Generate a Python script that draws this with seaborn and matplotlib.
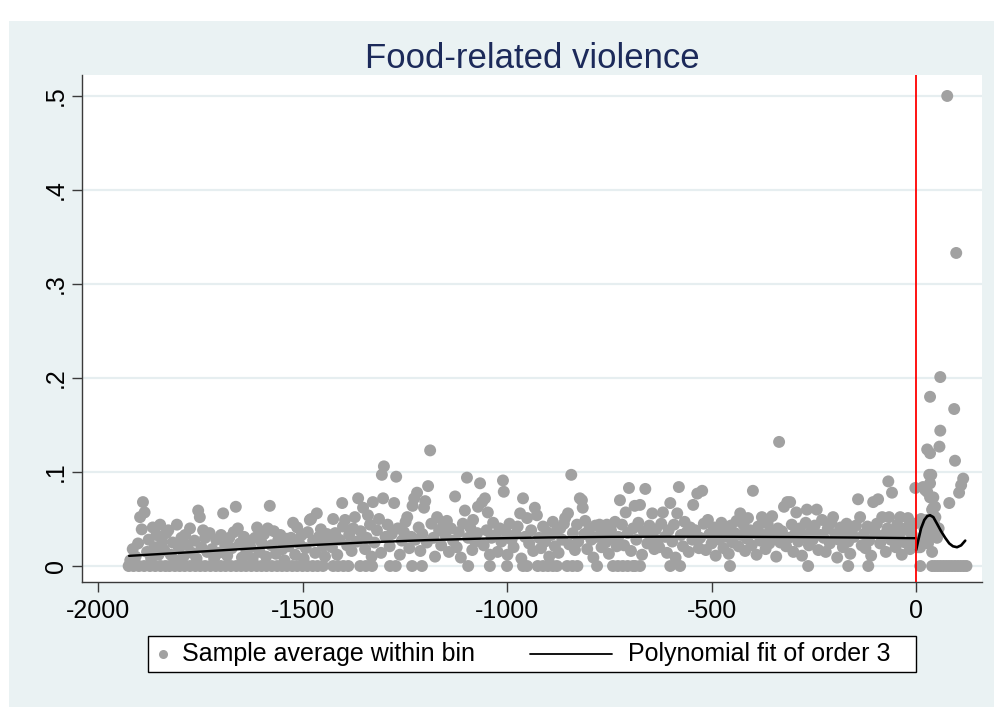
import numpy as np
import pandas as pd
import matplotlib
matplotlib.use("Agg")
import matplotlib.pyplot as plt
import seaborn as sns
from matplotlib.patches import Rectangle
from matplotlib.lines import Line2D

# ---------------- data ----------------
title = "Food-related violence"
x_ticks = [-2000, -1500, -1000, -500, 0]
x_tick_labels = ["-2000", "-1500", "-1000", "-500", "0"]
y_ticks = [0, 0.1, 0.2, 0.3, 0.4, 0.5]
y_tick_labels = ["0", ".1", ".2", ".3", ".4", ".5"]
legend_labels = ["Sample average within bin", "Polynomial fit of order 3"]

# bins left of the cutoff with a positive average
band_x = [
    -1921, -1915, -1908, -1902, -1897, -1893, -1890, -1886, -1880, -1876, -1870, -1866, -1862, -1857, -1852, -1848, -1843, -1838, -1833,
    -1828, -1822, -1817, -1811, -1807, -1802, -1796, -1791, -1787, -1781, -1775, -1770, -1764, -1759, -1755, -1751, -1747, -1743, -1738, -1733,
    -1727, -1721, -1716, -1711, -1705, -1699, -1694, -1689, -1684, -1679, -1673, -1668, -1663, -1658, -1653, -1648, -1643, -1637, -1633,
    -1627, -1622, -1616, -1611, -1605, -1600, -1594, -1589, -1585, -1580, -1576, -1570, -1565, -1559, -1554, -1549, -1544, -1539, -1534,
    -1528, -1523, -1518, -1513, -1508, -1502, -1497, -1492, -1487, -1482, -1479, -1474, -1469, -1465, -1460, -1455, -1450, -1445, -1440, -1435,
    -1428, -1425, -1420, -1415, -1410, -1403, -1401, -1396, -1391, -1386, -1380, -1376, -1372, -1367, -1364, -1358, -1352, -1347, -1343, -1340, -1335, -1331,
    -1328, -1324, -1318, -1313, -1308, -1306, -1303, -1301, -1297, -1292, -1287, -1282, -1276, -1271, -1267, -1262, -1257, -1252, -1248, -1244, -1239, -1234, -1231,
    -1227, -1224, -1220, -1216, -1212, -1207, -1203, -1200, -1196, -1193, -1188, -1185, -1180, -1176, -1171, -1166, -1161, -1156, -1151, -1147, -1142, -1137, -1132,
    -1127, -1123, -1118, -1113, -1108, -1103, -1098, -1095, -1090, -1085, -1083, -1078, -1073, -1071, -1066, -1061, -1057, -1054, -1050, -1047, -1042, -1038, -1034,
    -1028, -1023, -1018, -1014, -1010, -1008, -1004, -999, -994, -989, -984, -979, -974, -968, -965, -961, -956, -951, -946, -941, -936, -932,
    -927, -922, -917, -912, -907, -902, -897, -892, -888, -883, -878, -874, -870, -865, -861, -858, -851, -848, -843, -839, -834, -829,
    -826, -822, -817, -815, -811, -809, -804, -799, -794, -789, -784, -779, -774, -769, -764, -759, -756, -751, -746, -741, -736, -732,
    -728, -724, -719, -714, -710, -705, -702, -697, -692, -688, -684, -679, -675, -670, -666, -662, -657, -652, -648, -645, -640, -636, -632,
    -628, -623, -619, -614, -609, -605, -601, -596, -592, -588, -584, -580, -575, -570, -566, -561, -556, -552, -547, -545, -540, -535, -531,
    -528, -523, -519, -514, -509, -505, -500, -495, -490, -486, -481, -476, -471, -467, -462, -458, -453, -448, -443, -439, -434, -430,
    -427, -422, -418, -413, -411, -406, -402, -399, -395, -390, -386, -381, -377, -372, -368, -363, -359, -355, -352, -347, -342, -338, -335, -332,
    -328, -323, -318, -315, -311, -308, -304, -300, -296, -293, -288, -284, -279, -275, -270, -267, -262, -258, -253, -248, -243, -239, -234, -230,
    -226, -221, -216, -211, -207, -203, -198, -193, -189, -184, -179, -175, -170, -166, -161, -157, -152, -147, -142, -137, -133,
    -128, -124, -119, -115, -110, -105, -101, -96, -93, -88, -83, -79, -74, -70, -68, -66, -62, -59, -55, -50, -46, -42, -39, -35, -32, -27, -22, -20, -15, -11, -7, -4, -2,
]
band_y = [
    .006, .018, .010, .024, .052, .039, .068, .057, .015, .028, .008, .041, .020, .033, .012, .044, .026, .017, .035,
    .038, .012, .025, .006, .044, .019, .030, .010, .033, .022, .040, .014, .027, .008, .059, .052, .020, .038, .030, .015,
    .035, .018, .008, .028, .014, .033, .056, .022, .011, .030, .019, .036, .063, .040, .024, .009, .031, .016, .027,
    .020, .008, .030, .041, .015, .025, .034, .010, .040, .064, .022, .037, .013, .028, .033, .018, .006, .029, .021,
    .030, .046, .012, .041, .024, .033, .008, .019, .036, .049, .050, .027, .014, .056, .031, .039, .021, .010, .034, .026,
    .020, .050, .035, .012, .028, .067, .042, .049, .022, .033, .016, .040, .052, .026, .072, .037, .062, .018, .030, .054, .044, .010,
    .068, .025, .038, .050, .014, .097, .072, .106, .031, .044, .021, .034, .067, .095, .040, .012, .027, .036, .047, .052, .019, .031, .064,
    .072, .028, .078, .041, .016, .034, .062, .069, .025, .085, .123, .045, .030, .010, .052, .038, .022, .044, .033, .048, .015, .040, .027,
    .074, .020, .036, .009, .045, .059, .094, .030, .041, .017, .049, .026, .035, .063, .088, .068, .022, .072, .038, .057, .012, .030, .046,
    .033, .015, .040, .026, .091, .079, .037, .012, .045, .028, .020, .034, .042, .056, .008, .072, .031, .051, .024, .038, .016, .062,
    .054, .030, .019, .042, .026, .036, .010, .033, .047, .021, .038, .014, .040, .028, .045, .051, .056, .023, .097, .035, .017, .044,
    .026, .072, .070, .062, .034, .048, .018, .039, .028, .009, .043, .031, .044, .020, .036, .025, .044, .013, .038, .029, .047, .021,
    .031, .070, .044, .022, .057, .035, .083, .016, .040, .064, .028, .046, .065, .012, .037, .082, .024, .043, .032, .056, .018, .039, .027,
    .020, .045, .057, .031, .014, .038, .067, .026, .044, .009, .056, .084, .033, .021, .047, .036, .015, .041, .028, .065, .038, .077, .019,
    .030, .080, .045, .017, .049, .034, .024, .041, .011, .036, .028, .046, .019, .039, .031, .013, .043, .025, .035, .048, .021, .056,
    .033, .044, .016, .029, .051, .038, .022, .080, .035, .012, .042, .027, .052, .033, .018, .045, .024, .038, .053, .029, .010, .040, .132, .025,
    .037, .063, .021, .068, .030, .068, .044, .015, .034, .057, .026, .040, .011, .031, .046, .060, .022, .036, .028, .043, .060, .017, .033, .049,
    .030, .015, .040, .024, .046, .052, .034, .009, .028, .041, .020, .036, .045, .026, .013, .038, .031, .043, .071, .052, .022,
    .034, .019, .042, .027, .011, .068, .036, .045, .071, .024, .052, .033, .015, .040, .090, .052, .028, .078, .037, .020, .044, .030, .052, .012, .038, .025, .041, .051, .018, .034, .027, .045, .083,
]
# bins left of the cutoff whose average is zero
zero_x = [
    -1925, -1913, -1900, -1887, -1873, -1860, -1847, -1835,
    -1825, -1812, -1800, -1788, -1775, -1762, -1750, -1738,
    -1725, -1712, -1700, -1688, -1675, -1662, -1650, -1638,
    -1625, -1612, -1600, -1588, -1575, -1562, -1550, -1538,
    -1525, -1513, -1500, -1488, -1475, -1463, -1450,
    -1425, -1413, -1400, -1388, -1359, -1345, -1330,
    -1286, -1272, -1232, -1208, -1095, -1042, -1000, -961, -951,
    -925, -912, -900, -888, -878, -853, -840, -828,
    -780, -741, -729, -717, -705, -692, -687, -675,
    -601, -577, -455, -264, -166, -117,
]
# bins right of the cutoff
right_x = [59, 34, 93, 59, 57, 27, 34, 95, 37, 32, 115, 110, 105, 81, 17, 34, 27, 42, 46, 39,
           47, 27, 42, 51, 22, 5, 76, 98, 22, 34, 42, 27, 42, 17, 29, 39, 10, 12, 20, 30, 44, 55]
right_y = [.201, .180, .167, .144, .127, .124, .120, .112, .097, .097, .093, .086, .078, .067, .084, .088, .079, .073, .063, .060,
           .052, .046, .038, .030, .026, .020, .500, .333, .081, .073, .062, .049, .041, .031, .024, .015, .020, .050, .040, .033, .045, .040]
right_zero_x = [10, 39, 46, 53, 60, 67, 74, 81, 88, 95, 102, 109, 116, 123]

# polynomial fit (order 3)
fit_left_x = [-1924, -1800, -1650, -1500, -1350, -1200, -1050, -900, -750, -600, -450, -300, -150, 0]
fit_left_y = [.0108, .0140, .0180, .0218, .0250, .0275, .0293, .0304, .0310, .0312, .0311, .0308, .0303, .0296]
fit_right_x = [0, 5, 12, 20, 27, 34, 42, 51, 61, 71, 81, 90, 100, 110, 120]
fit_right_y = [.017, .027, .040, .049, .053, .054, .052, .045, .037, .030, .024, .021, .020, .022, .027]

cutoff = 0

# ---------------- build table ----------------
pts = pd.concat([
    pd.DataFrame({"x": band_x, "y": band_y}),
    pd.DataFrame({"x": zero_x, "y": [0.0] * len(zero_x)}),
    pd.DataFrame({"x": right_x, "y": right_y}),
    pd.DataFrame({"x": right_zero_x, "y": [0.0] * len(right_zero_x)}),
], ignore_index=True)

# ---------------- figure ----------------
sns.set_theme(style="white")
plt.rcParams['font.family'] = ['Liberation Sans', 'DejaVu Sans']

W, H = 994, 707
fig = plt.figure(figsize=(W / 100, H / 100), dpi=100)
fig.patch.set_facecolor("white")
BG = "#EAF2F3"
fig.add_artist(Rectangle((9 / W, 0), (W - 9) / W, (H - 21) / H, transform=fig.transFigure,
                         facecolor=BG, edgecolor="none", zorder=-10))

ax = fig.add_axes([82 / W, (H - 582) / H, 900 / W, 507 / H])
ax.set_facecolor("white")
ax.set_xlim(-2039, 161)
ax.set_ylim(-0.017, 0.5223)

ax.set_yticks(y_ticks)
ax.yaxis.grid(True, color="#E6EEF0", lw=1.6)
ax.xaxis.grid(False)
ax.set_axisbelow(True)

GRAY = "#A1A1A1"
sns.scatterplot(data=pts, x="x", y="y", color=GRAY, s=74, edgecolor="none", linewidth=0,
                ax=ax, legend=False, zorder=2)
sns.lineplot(x=fit_left_x, y=fit_left_y, color="black", lw=1.7, estimator=None, sort=False,
             ax=ax, zorder=4)
sns.lineplot(x=fit_right_x, y=fit_right_y, color="black", lw=1.9, estimator=None, sort=False,
             ax=ax, zorder=4)
ax.axvline(cutoff, color="red", lw=1.3, zorder=5)

for s in ["top", "right"]:
    ax.spines[s].set_visible(False)
for s in ["left", "bottom"]:
    ax.spines[s].set_visible(True)
    ax.spines[s].set_color("#3a3a3a")
    ax.spines[s].set_linewidth(1.0)

ax.set_xticks(x_ticks)
ax.set_xticklabels(x_tick_labels)
ax.set_yticklabels(y_tick_labels, rotation=90, va="center")
ax.tick_params(axis="both", which="major", direction="out", length=7, width=1,
               color="#3a3a3a", labelsize=18, labelcolor="black", bottom=True, left=True)
ax.tick_params(axis="x", pad=5)
ax.tick_params(axis="y", pad=3)
ax.set_xlabel("")
ax.set_ylabel("")

fig.text(532 / W, 1 - 58 / H, title, ha="center", va="center", fontsize=25, color="#1C2A5A")

# legend box
ly = 1 - 654 / H
fig.add_artist(Rectangle((148 / W, 1 - 672 / H), (916 - 148) / W, 36 / H, transform=fig.transFigure,
                         facecolor="white", edgecolor="black", lw=1.0, zorder=10))
fig.add_artist(Line2D([163 / W], [ly], marker="o", ms=6.5, color=GRAY, mec="none", ls="none",
                      transform=fig.transFigure, zorder=11))
fig.text(182 / W, ly, legend_labels[0], ha="left", va="center", fontsize=18, color="black", zorder=11)
fig.add_artist(Line2D([530 / W, 612 / W], [ly, ly], color="black", lw=1.3,
                      transform=fig.transFigure, zorder=11))
fig.text(628 / W, ly, legend_labels[1], ha="left", va="center", fontsize=18, color="black", zorder=11)

fig.savefig("out.png", dpi=100, facecolor=fig.get_facecolor())
